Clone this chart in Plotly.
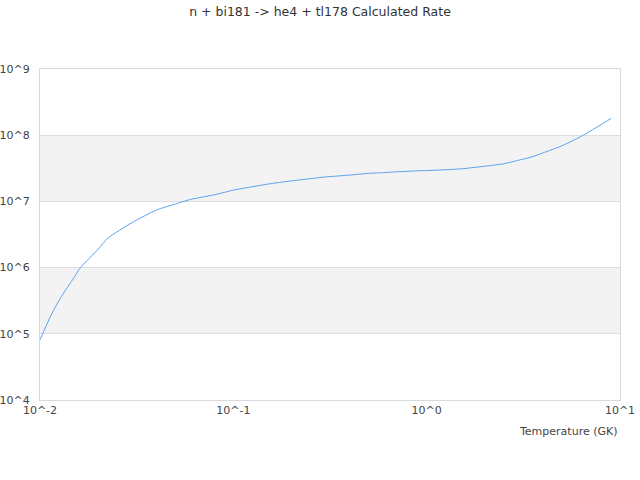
import plotly.graph_objects as go

# temperature grid (GK) and rate
temperature = [0.01, 0.0113, 0.0127, 0.015, 0.0161, 0.02, 0.0225, 0.03, 0.04, 0.05, 0.06,
               0.07, 0.08, 0.09, 0.1, 0.15, 0.2, 0.3, 0.4, 0.5, 0.6, 0.7, 0.8, 0.9,
               1.0, 1.5, 2.0, 2.5, 3.0, 3.5, 4.0, 5.0, 6.0, 7.0, 8.0, 9.0]
rate = [8.1e4, 1.8e5, 3.4e5, 7.1e5, 9.8e5, 1.9e6, 2.8e6, 4.8e6, 7.4e6, 9.1e6, 1.07e7,
        1.17e7, 1.26e7, 1.37e7, 1.48e7, 1.82e7, 2.04e7, 2.34e7, 2.5e7, 2.65e7, 2.72e7, 2.8e7, 2.85e7, 2.9e7,
        2.92e7, 3.1e7, 3.4e7, 3.7e7, 4.2e7, 4.7e7, 5.4e7, 6.9e7, 8.9e7, 1.15e8, 1.45e8, 1.8e8]

x_ticks = [0.01, 0.1, 1, 10]
x_labels = ["10^-2", "10^-1", "10^0", "10^1"]
y_ticks = [1e4, 1e5, 1e6, 1e7, 1e8, 1e9]
y_labels = ["10^4", "10^5", "10^6", "10^7", "10^8", "10^9"]
bands = [(1e5, 1e6), (1e7, 1e8)]

fig = go.Figure()
fig.add_trace(go.Scatter(x=temperature, y=rate, mode="lines",
                         line=dict(color="#5aa2ee", width=1, shape="spline", smoothing=0.6),
                         hoverinfo="skip"))

for lo, hi in bands:
    fig.add_shape(type="rect", xref="paper", yref="y", x0=0, x1=1, y0=lo, y1=hi,
                  fillcolor="#f3f3f3", line=dict(width=0), layer="below")

fig.update_layout(
    width=640, height=480,
    margin=dict(l=40, r=20, t=69, b=80, autoexpand=False),
    paper_bgcolor="white", plot_bgcolor="white",
    showlegend=False,
    font=dict(family="DejaVu Sans", size=11, color="#444444"),
    title=dict(text="n + bi181 -> he4 + tl178 Calculated Rate", x=0.5, xanchor="center",
               yref="container", y=1 - 12 / 480, yanchor="middle",
               font=dict(size=12.5, color="#333333")),
)
fig.update_xaxes(type="log", range=[-2, 1], tickvals=x_ticks, ticktext=x_labels,
                 showgrid=False, showline=True, linecolor="#d9d9d9", mirror=True,
                 ticks="", zeroline=False, automargin=False, tickfont=dict(size=11))
fig.update_yaxes(type="log", range=[4, 9], tickvals=y_ticks, ticktext=y_labels,
                 showgrid=True, gridcolor="#dddddd", showline=True, linecolor="#d9d9d9",
                 mirror=True, ticks="", zeroline=False, automargin=False,
                 ticklabelstandoff=7, tickfont=dict(size=11))

fig.add_annotation(text="Temperature (GK)", xref="paper", yref="paper", x=1, y=-31 / 331,
                   xanchor="right", yanchor="middle", showarrow=False,
                   font=dict(size=11, color="#444444"))

# drop the browser's default body margin so the figure sits at the page corner
fig.write_html("out.html", config={"displayModeBar": False},
               post_script="document.body.style.margin='0';")
